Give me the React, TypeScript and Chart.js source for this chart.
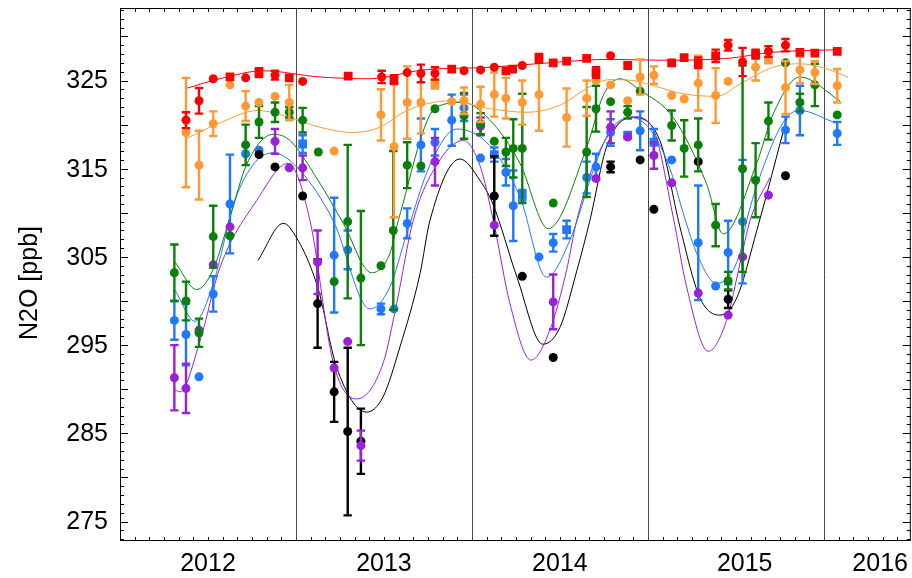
import React, { useEffect, useRef } from "react";
import { Chart, registerables } from "chart.js";

Chart.register(...registerables);

// Axis extents (decimal years, ppb)
const X_MIN = 2012.0;
const X_MAX = 2016.494;
const Y_MIN = 272.79;
const Y_MAX = 333.22;

const yTickLabels = [275, 285, 295, 305, 315, 325];
const yearLines = [2013, 2014, 2015, 2016];
const xLabelText = ["2012", "2013", "2014", "2015", "2016"];
const xLabelPos = [2012.5, 2013.5, 2014.5, 2015.55, 2016.32];

// ---- Red series
const redT = [2012.375, 2012.449, 2012.53, 2012.625, 2012.714, 2012.79, 2012.881, 2012.962, 2013.038, 2013.297, 2013.487, 2013.557, 2013.632, 2013.71, 2013.79, 2013.885, 2013.955, 2014.049, 2014.127, 2014.193, 2014.231, 2014.286, 2014.381, 2014.462, 2014.538, 2014.652, 2014.705, 2014.788, 2014.885, 2015.135, 2015.206, 2015.286, 2015.385, 2015.456, 2015.538, 2015.612, 2015.685, 2015.782, 2015.864, 2015.949, 2016.076];
const redV = [320.5, 322.7, 325.2, 325.4, 325.3, 325.9, 325.6, 325.3, 324.9, 325.5, 325.4, 325.1, 325.9, 325.8, 325.8, 326.3, 326.1, 326.2, 326.5, 326.1, 326.3, 326.7, 327.5, 327.0, 327.2, 327.5, 325.9, 327.8, 326.7, 327.0, 327.6, 327.0, 327.8, 329.0, 327.1, 328.0, 328.3, 329.0, 328.2, 328.1, 328.3];
const redE = [0.9, 1.45, 0, 0, 0, 0.5, 0.5, 0, 0, 0, 0.7, 0.5, 0, 1.0, 0.7, 0, 0, 0, 0, 0, 0, 0, 0.5, 0, 0, 0, 0.6, 0, 0, 0, 0, 0.6, 0.7, 0.6, 1.6, 0.5, 0.6, 0.7, 0, 0, 0];
const redS = ["c", "c", "c", "s", "c", "s", "c", "s", "c", "s", "c", "s", "c", "c", "c", "s", "c", "c", "c", "s", "s", "c", "s", "s", "s", "s", "s", "c", "s", "s", "s", "s", "s", "c", "c", "s", "c", "c", "s", "s", "s"];
const redFitT = [2012.375, 2012.568, 2012.813, 2013.136, 2013.42, 2013.722, 2014.102, 2014.5, 2014.784, 2015.068, 2015.449, 2015.71, 2016.091];
const redFitV = [324.1, 325.2, 326.1, 325.4, 325.2, 326.2, 326.5, 327.1, 327.4, 327.3, 327.5, 328.2, 328.5];

// ---- Orange series
const orangeT = [2012.375, 2012.449, 2012.53, 2012.625, 2012.714, 2012.79, 2012.881, 2012.962, 2013.217, 2013.483, 2013.557, 2013.632, 2013.71, 2013.79, 2013.885, 2013.955, 2014.049, 2014.127, 2014.193, 2014.286, 2014.381, 2014.538, 2014.652, 2014.705, 2014.788, 2014.885, 2014.956, 2015.034, 2015.135, 2015.206, 2015.286, 2015.385, 2015.456, 2015.612, 2015.685, 2015.782, 2015.864, 2015.949, 2016.076];
const orangeV = [319.1, 315.4, 320.1, 324.5, 322.1, 322.5, 323.2, 322.5, 317.0, 321.1, 317.5, 322.5, 322.5, 324.6, 322.6, 322.7, 322.3, 323.4, 323.0, 322.5, 323.4, 320.8, 323.0, 325.0, 324.5, 322.7, 325.4, 325.6, 323.3, 322.9, 324.7, 323.3, 324.9, 326.5, 327.3, 324.2, 326.2, 325.9, 324.4];
const orangeE = [6.2, 3.9, 1.4, 0, 1.7, 0, 0, 2.0, 0, 2.9, 8.0, 4.1, 3.5, 0.5, 0, 1.5, 2.0, 2.5, 2.3, 2.5, 4.1, 3.3, 2.0, 0, 0, 0, 2.0, 1.0, 0, 0, 3.1, 3.1, 0, 1.5, 0, 3.0, 1.5, 1.3, 1.9];
const orangeS = ["c", "c", "c", "c", "c", "c", "c", "c", "c", "c", "c", "c", "c", "s", "c", "c", "c", "c", "c", "c", "c", "c", "c", "c", "c", "c", "c", "c", "c", "c", "c", "c", "c", "c", "s", "c", "c", "c", "c"];
const orangeFitT = [2012.375, 2012.568, 2012.784, 2012.966, 2013.136, 2013.324, 2013.477, 2013.631, 2013.875, 2014.102, 2014.313, 2014.5, 2014.653, 2014.784, 2014.915, 2015.068, 2015.199, 2015.392, 2015.523, 2015.71, 2015.864, 2016.017, 2016.136];
const orangeFitV = [318.4, 320.2, 321.6, 320.8, 319.7, 319.1, 319.7, 321.6, 322.7, 321.8, 321.4, 322.2, 324.1, 325.1, 325.0, 324.2, 323.5, 323.2, 324.6, 326.5, 326.9, 326.3, 325.4];

// ---- Green series
const greenT = [2012.309, 2012.375, 2012.449, 2012.53, 2012.625, 2012.714, 2012.79, 2012.881, 2012.962, 2013.038, 2013.127, 2013.217, 2013.294, 2013.369, 2013.483, 2013.553, 2013.632, 2013.71, 2013.79, 2013.955, 2014.049, 2014.127, 2014.193, 2014.235, 2014.286, 2014.462, 2014.652, 2014.705, 2014.788, 2014.885, 2014.956, 2015.135, 2015.206, 2015.286, 2015.385, 2015.456, 2015.538, 2015.612, 2015.685, 2015.782, 2015.864, 2015.949, 2016.076];
const greenV = [303.2, 300.0, 296.4, 307.3, 307.4, 317.7, 320.3, 321.4, 321.4, 320.5, 316.9, 302.2, 309.0, 302.6, 304.0, 308.0, 315.4, 315.3, 321.8, 321.0, 320.1, 318.1, 316.9, 317.3, 317.3, 311.1, 316.9, 321.8, 322.6, 321.4, 323.8, 319.9, 317.3, 317.7, 308.6, 302.3, 315.0, 313.7, 320.4, 327.0, 322.5, 324.5, 321.1];
const greenE = [3.2, 2.2, 1.6, 3.5, 0, 2.3, 1.8, 1.1, 0.6, 1.4, 0, 0, 8.7, 7.6, 0, 9.0, 2.6, 0, 0, 2.6, 1.2, 0, 1.6, 3.3, 6.2, 0, 5.1, 2.6, 0, 0.7, 0, 1.7, 3.2, 3.0, 2.4, 1.0, 11.7, 4.2, 2.1, 0, 1.0, 2.4, 0];
const greenFitT = [2012.313, 2012.436, 2012.53, 2012.625, 2012.72, 2012.871, 2012.966, 2013.125, 2013.269, 2013.43, 2013.534, 2013.581, 2013.799, 2013.951, 2014.121, 2014.273, 2014.434, 2014.652, 2014.746, 2014.841, 2014.955, 2015.144, 2015.333, 2015.428, 2015.618, 2015.712, 2015.864, 2016.091];
const greenFitV = [304.4, 301.3, 303.6, 309.5, 315.5, 318.9, 318.2, 313.7, 308.8, 303.2, 305.4, 309.1, 322.0, 322.5, 320.1, 315.6, 308.2, 317.4, 323.3, 325.2, 323.9, 320.8, 313.3, 307.6, 315.6, 321.2, 325.4, 322.7];

// ---- Blue series
const blueT = [2012.309, 2012.375, 2012.449, 2012.53, 2012.625, 2012.714, 2012.79, 2013.038, 2013.217, 2013.294, 2013.483, 2013.557, 2013.632, 2013.71, 2013.79, 2013.885, 2013.955, 2014.049, 2014.127, 2014.193, 2014.235, 2014.286, 2014.381, 2014.462, 2014.538, 2014.652, 2014.705, 2014.788, 2014.885, 2014.956, 2015.034, 2015.135, 2015.286, 2015.385, 2015.456, 2015.538, 2015.782, 2015.864, 2016.076];
const blueV = [297.8, 296.2, 291.4, 300.8, 311.0, 316.7, 317.1, 317.8, 305.2, 305.8, 299.1, 299.1, 308.8, 317.7, 318.0, 320.5, 321.9, 316.2, 316.6, 314.6, 310.8, 312.0, 305.0, 306.6, 308.1, 314.0, 315.2, 319.1, 318.8, 319.3, 318.0, 316.0, 306.6, 301.7, 305.5, 309.0, 319.4, 321.6, 319.0];
const blueE = [2.2, 3.5, 0, 2.0, 5.6, 0, 0, 1.0, 6.5, 2.2, 0.6, 0, 1.7, 3.0, 1.5, 2.9, 1.5, 0, 0.8, 1.5, 4.0, 0.6, 0, 1.0, 1.0, 1.8, 1.5, 1.5, 0, 2.2, 1.5, 0, 6.5, 0, 3.6, 7.0, 1.5, 2.8, 1.3];
const blueS = ["c", "c", "c", "c", "c", "c", "c", "s", "c", "c", "c", "c", "c", "c", "c", "c", "c", "c", "s", "c", "c", "s", "c", "c", "s", "c", "c", "c", "s", "c", "s", "c", "c", "c", "c", "c", "c", "c", "c"];
const blueFitT = [2012.313, 2012.426, 2012.53, 2012.653, 2012.767, 2012.871, 2013.023, 2013.212, 2013.42, 2013.534, 2013.629, 2013.761, 2013.913, 2014.102, 2014.273, 2014.424, 2014.557, 2014.689, 2014.784, 2014.907, 2015.03, 2015.134, 2015.2, 2015.286, 2015.39, 2015.523, 2015.561, 2015.693, 2015.788, 2015.864, 2016.053];
const blueFitV = [301.2, 297.7, 302.0, 311.4, 315.7, 316.8, 314.8, 309.1, 299.1, 301.6, 307.6, 315.4, 319.5, 317.6, 311.8, 302.7, 306.9, 314.8, 319.3, 320.8, 319.0, 314.5, 310.0, 305.0, 302.0, 305.4, 309.1, 317.1, 320.8, 321.6, 320.3];

// ---- Purple series
const purpleT = [2012.309, 2012.375, 2012.449, 2012.53, 2012.625, 2012.881, 2012.962, 2013.038, 2013.123, 2013.217, 2013.294, 2013.369, 2013.79, 2014.049, 2014.127, 2014.462, 2014.705, 2014.788, 2014.885, 2015.034, 2015.135, 2015.286, 2015.456, 2015.538, 2015.685];
const purpleV = [291.3, 290.1, 296.7, 304.1, 308.4, 318.1, 315.1, 315.1, 304.4, 292.4, 295.4, 283.6, 315.8, 319.8, 308.6, 299.9, 313.9, 319.7, 318.6, 316.5, 313.4, 300.9, 298.4, 305.0, 312.0];
const purpleE = [3.7, 2.8, 0, 0, 0, 1.4, 0, 1.4, 3.6, 0, 0, 1.7, 2.7, 1.0, 0, 3.1, 0, 1.8, 0, 1.5, 0, 0, 0, 0, 0];
const purpleFitT = [2012.313, 2012.341, 2012.455, 2012.568, 2012.777, 2012.956, 2013.08, 2013.212, 2013.345, 2013.496, 2013.572, 2013.666, 2013.818, 2013.951, 2014.045, 2014.125, 2014.216, 2014.335, 2014.443, 2014.538, 2014.595, 2014.727, 2014.917, 2015.03, 2015.144, 2015.22, 2015.343, 2015.447, 2015.523, 2015.58, 2015.693];
const purpleFitV = [289.9, 289.7, 295.5, 303.8, 311.4, 315.6, 309.1, 293.0, 288.9, 293.0, 299.7, 309.1, 316.0, 318.2, 315.4, 308.8, 299.7, 293.3, 296.7, 303.5, 309.1, 317.1, 320.9, 319.5, 309.5, 301.6, 294.3, 297.8, 304.2, 309.1, 314.0];

// ---- Black series
const blackT = [2012.79, 2012.881, 2013.038, 2013.123, 2013.217, 2013.294, 2013.369, 2014.127, 2014.286, 2014.462, 2014.788, 2014.956, 2015.034, 2015.286, 2015.456, 2015.782];
const blackV = [316.6, 315.2, 311.9, 299.7, 289.7, 285.2, 284.1, 311.9, 302.8, 293.6, 315.2, 316.0, 310.4, 315.8, 300.2, 314.2];
const blackE = [0, 0, 0, 5.0, 3.4, 9.5, 3.7, 4.5, 0, 0, 0.6, 0, 0, 0, 1.0, 0];
const blackFitT = [2012.784, 2012.928, 2012.966, 2013.123, 2013.231, 2013.402, 2013.494, 2013.591, 2013.705, 2013.761, 2013.932, 2014.045, 2014.119, 2014.256, 2014.403, 2014.5, 2014.597, 2014.67, 2014.767, 2014.909, 2015.068, 2015.182, 2015.295, 2015.409, 2015.506, 2015.619, 2015.79];
const blackFitV = [304.6, 308.8, 308.3, 301.6, 292.5, 287.4, 289.1, 294.8, 303.1, 309.1, 316.1, 313.7, 311.0, 302.7, 295.1, 297.0, 303.5, 309.1, 317.6, 320.8, 318.2, 308.4, 300.4, 298.4, 300.4, 308.0, 320.8];

const RED = "#ff0000";
const ORANGE = "#ff9933";
const GREEN = "#0a800a";
const BLUE = "#1f78ff";
const PURPLE = "#9b20dc";
const BLACK = "#000000";

// Chart.js keeps room for the largest edge marker; the canvas is made a bit
// wider than the visible frame so the plot box still ends at the page edge.
const EDGE_PAD = 6.2;
const CANVAS_W = 917;
const CANVAS_H = 578;

const pts = (t: number[], v: number[]) => t.map((x, i) => ({ x, y: v[i] }));

function markers(t: number[], v: number[], e: number[], color: string, order: number, shapes?: string[]) {
  const shape = (i: number) => (shapes ? shapes[i] : "c");
  return {
    data: pts(t, v),
    errs: e,
    order,
    showLine: false,
    backgroundColor: color,
    borderColor: color,
    pointBackgroundColor: color,
    pointBorderWidth: 0,
    pointStyle: t.map((_, i) => (shape(i) === "s" ? "rect" : "circle")),
    pointRadius: t.map((_, i) => (shape(i) === "s" ? 6.2 : 4.5)),
  };
}

function fit(t: number[], v: number[], color: string) {
  return {
    data: pts(t, v),
    order: 20,
    showLine: true,
    borderColor: color,
    borderWidth: 1,
    pointRadius: 0,
    cubicInterpolationMode: "monotone",
    fill: false,
  };
}

const errorBars = {
  id: "errorBars",
  beforeDatasetDraw(chart: any, args: any) {
    const ds = chart.data.datasets[args.index];
    if (!ds.errs) return;
    const { ctx } = chart;
    const xs = chart.scales.x;
    const ys = chart.scales.y;
    ctx.save();
    ctx.strokeStyle = ds.backgroundColor;
    ctx.lineWidth = 2.4;
    ctx.lineCap = "butt";
    ds.data.forEach((p: any, i: number) => {
      const e = ds.errs[i];
      if (!e) return;
      const px = xs.getPixelForValue(p.x);
      const top = ys.getPixelForValue(p.y + e);
      const bot = ys.getPixelForValue(p.y - e);
      ctx.beginPath();
      ctx.moveTo(px, top);
      ctx.lineTo(px, bot);
      ctx.moveTo(px - 4.2, top);
      ctx.lineTo(px + 4.2, top);
      ctx.moveTo(px - 4.2, bot);
      ctx.lineTo(px + 4.2, bot);
      ctx.stroke();
    });
    ctx.restore();
  },
};

const frame = {
  id: "frame",
  beforeDatasetsDraw(chart: any) {
    const { ctx, chartArea: a } = chart;
    const xs = chart.scales.x;
    ctx.save();
    ctx.strokeStyle = "#4a4a4a";
    ctx.lineWidth = 1;
    yearLines.forEach((yr) => {
      const px = Math.round(xs.getPixelForValue(yr)) + 0.5;
      ctx.beginPath();
      ctx.moveTo(px, a.top);
      ctx.lineTo(px, a.bottom);
      ctx.stroke();
    });
    ctx.restore();
  },
  afterDraw(chart: any) {
    const { ctx, chartArea: a } = chart;
    const xs = chart.scales.x;
    const ys = chart.scales.y;
    ctx.save();
    ctx.strokeStyle = "#000";
    ctx.lineWidth = 1;
    // box
    ctx.strokeRect(a.left + 0.5, a.top + 0.5, a.right - a.left - 1, a.bottom - a.top - 1);
    // y ticks, both sides
    ctx.beginPath();
    for (let v = Math.ceil(Y_MIN); v <= Y_MAX; v++) {
      const py = Math.round(ys.getPixelForValue(v)) + 0.5;
      const len = v % 5 === 0 ? 8 : 4;
      ctx.moveTo(a.left, py);
      ctx.lineTo(a.left + len, py);
      ctx.moveTo(a.right, py);
      ctx.lineTo(a.right - len, py);
    }
    // monthly x ticks, top and bottom
    for (let m = 1; X_MIN + m / 12 < X_MAX; m++) {
      if (m % 12 === 0) continue;
      const px = Math.round(xs.getPixelForValue(X_MIN + m / 12)) + 0.5;
      ctx.moveTo(px, a.bottom);
      ctx.lineTo(px, a.bottom - 4);
      ctx.moveTo(px, a.top);
      ctx.lineTo(px, a.top + 4);
    }
    ctx.stroke();

    ctx.fillStyle = "#000";
    ctx.font = "25px 'Liberation Sans', Arial, sans-serif";
    ctx.textAlign = "right";
    ctx.textBaseline = "middle";
    yTickLabels.forEach((v) => {
      ctx.fillText(String(v), a.left - 12, ys.getPixelForValue(v) + 1);
    });
    ctx.textAlign = "center";
    xLabelText.forEach((s, i) => {
      ctx.fillText(s, xs.getPixelForValue(xLabelPos[i]), a.bottom + 23);
    });
    ctx.translate(30, 283);
    ctx.rotate(-Math.PI / 2);
    ctx.fillText("N2O [ppb]", 0, 0);
    ctx.restore();
  },
};

export default function App() {
  const ref = useRef<HTMLCanvasElement | null>(null);

  useEffect(() => {
    if (!ref.current) return;
    const chart = new Chart(ref.current, {
      type: "scatter",
      data: {
        datasets: [
          fit(redFitT, redFitV, RED),
          fit(orangeFitT, orangeFitV, ORANGE),
          fit(greenFitT, greenFitV, GREEN),
          fit(blueFitT, blueFitV, BLUE),
          fit(purpleFitT, purpleFitV, PURPLE),
          fit(blackFitT, blackFitV, BLACK),
          markers(blueT, blueV, blueE, BLUE, 6, blueS),
          markers(blackT, blackV, blackE, BLACK, 5),
          markers(purpleT, purpleV, purpleE, PURPLE, 4),
          markers(greenT, greenV, greenE, GREEN, 3),
          markers(orangeT, orangeV, orangeE, ORANGE, 2, orangeS),
          markers(redT, redV, redE, RED, 1, redS),
        ] as any,
      },
      options: {
        responsive: false,
        animation: false,
        devicePixelRatio: 1,
        events: [],
        layout: { padding: { left: 120, right: EDGE_PAD, top: 8, bottom: 37 } },
        plugins: { legend: { display: false }, tooltip: { enabled: false } },
        scales: {
          x: { type: "linear", min: X_MIN, max: X_MAX, display: false },
          y: { type: "linear", min: Y_MIN, max: Y_MAX, display: false },
        },
      } as any,
      plugins: [frame, errorBars],
    });
    return () => chart.destroy();
  }, []);

  return (
    <div style={{ position: "fixed", left: 0, top: 0, width: 912, height: 578, overflow: "hidden", background: "#fff" }}>
      <canvas ref={ref} width={CANVAS_W} height={CANVAS_H} style={{ display: "block" }} />
    </div>
  );
}
